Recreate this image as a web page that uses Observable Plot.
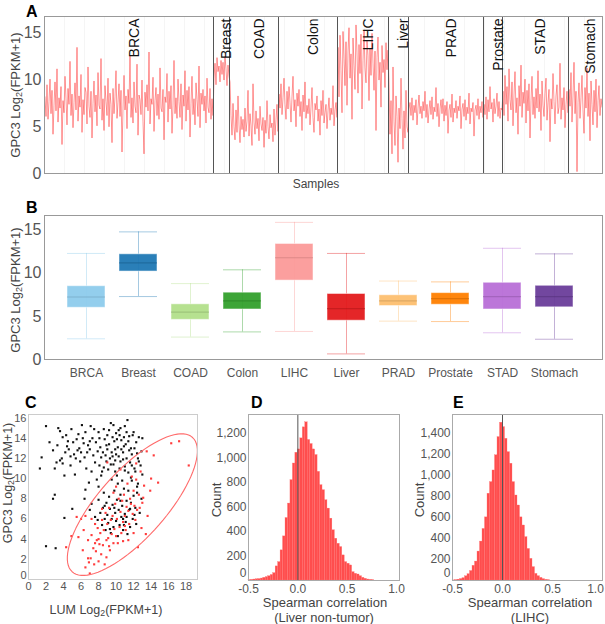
<!DOCTYPE html>
<html><head><meta charset="utf-8">
<script src="https://cdn.jsdelivr.net/npm/d3@7"></script>
<script src="https://cdn.jsdelivr.net/npm/@observablehq/plot@0.6"></script>
<style>
body{margin:0;background:#fff;font-family:"Liberation Sans",Arial,sans-serif;}
#root{position:relative;width:605px;height:624px;overflow:hidden;background:#fff;}
.lbl{position:absolute;white-space:nowrap;color:#444;line-height:1;}
.rot{transform:translate(-50%,-50%) rotate(-90deg);}
.ctr{transform:translate(-50%,-50%);}
.letter{position:absolute;font-weight:bold;font-size:16px;color:#000;line-height:1;transform:translateY(-50%);font-family:"Liberation Sans",Arial,sans-serif;}
sub{font-size:70%;vertical-align:-0.3em;line-height:0;}
</style></head><body><div id="root"></div>
<script>
// ---------- Panel A: per-sample GPC3 expression ----------
const groupNames = ["BRCA","Breast","COAD","Colon","LIHC","Liver","PRAD","Prostate","STAD","Stomach"];
const brcaValues = [8.2,6.1,9.5,5.8,7.7,10.1,6.4,8.9,4.2,7.3,9.8,6.7,11.2,5.5,8.1,7.0,9.3,3.1,7.8,6.5,10.4,8.0,5.2,9.1,7.4,12.0,6.2,8.5,4.9,7.6,9.7,6.8,13.5,5.6,8.3,7.1,10.6,4.4,7.9,6.3,9.2,8.7,5.3,11.4,7.2,6.0,8.8,3.8,7.5,9.9,6.6,8.4,5.1,10.8,7.3,6.9,12.3,5.7,8.0,4.6,9.4,7.7,6.2,10.2,5.0,8.6,7.4,3.3,9.1,6.4,8.2,11.0,5.9,7.6,9.6,6.1,8.9,2.3,7.0,10.5,6.8,8.3,4.8,9.0,7.5,12.6,6.0,8.1,5.4,9.8,7.2,6.5,11.7,4.1,8.4,7.9,6.3,10.0,5.6,2.1,8.7,7.1,9.5,6.7,13.0,5.3,8.0,7.4,10.3,4.5,7.8,9.2,6.2,8.5,5.8,11.3,7.0,6.6,9.0,3.6,8.2,7.6,10.7,5.5,8.8,6.9,9.4,4.3,7.3,12.1,6.4,8.1,5.9,10.1,7.7,6.0,9.6,4.7,8.4,7.2,11.0,5.6,8.9,6.8,9.3,3.9,7.5,10.4,6.3,8.0,5.2,9.7,7.9,6.1,11.5,4.9,8.6,7.4,9.0,6.7,8.3,5.4,10.2,7.1,6.5,9.1,5.8,8.0,6.2];
const breastValues = [10.2,11.8,9.5,12.4,10.9,11.5,9.8,12.1,10.6,11.9,10.0,12.5,11.2,9.4,11.6,10.4];
const coadValues = [9.8,6.2,4.1,7.5,5.0,3.6,6.8,4.4,8.3,5.2,3.3,6.1,4.7,5.8,3.9,7.0,4.5,5.6,8.9,4.0,6.4,5.1,3.0,9.6,5.5,4.2,6.7,4.8,5.9,3.5,7.2,5.3,4.6,6.0,2.8,5.7,4.3,7.8,5.0,3.7,6.3,4.9,5.4,3.4,6.9,4.1,5.8,7.4,4.5];
const colonValues = [8.5,7.0,9.6,6.3,8.1,10.2,7.4,5.8,8.8,6.9,9.3,7.6,5.5,8.2,10.4,6.7,7.9,5.0,8.6,7.2,9.0,6.1,7.7,4.6,8.4,6.6,9.8,5.9,7.3,6.4,8.0,5.2,7.1,9.2,6.0,4.4,7.5,6.8,8.3,5.6,6.9,4.1,7.8,6.2,8.9,5.4,6.5,7.4,4.8,6.7,8.1,5.7,7.0,6.3,9.4,5.1,6.8,7.6,6.0];
const lihcValues = [13.5,8.2,14.8,11.0,6.5,15.2,12.3,9.4,14.1,7.3,13.0,15.6,10.2,12.8,5.8,14.5,11.6,9.0,15.9,12.9,8.6,13.8,10.7,14.9,6.9,12.1,15.3,11.3,9.7,14.2,12.6,7.8,13.4,10.5,15.0,11.8,8.9,13.1,4.6,12.4,14.6,10.0,11.9,7.1,13.7,10.8,12.2,9.2,14.0,11.1,13.2];
const liverValues = [9.5,4.2,7.8,2.1,11.4,5.6,3.0,8.3,6.1,1.2,7.0,4.8,10.2,5.9,2.6,6.7,3.8,8.9,5.0,4.4];
const pradValues = [6.9,7.6,6.2,8.1,5.7,7.3,6.5,7.9,5.2,7.0,8.4,6.4,7.2,5.9,7.7,6.7,8.8,6.0,7.4,5.4,6.8,7.8,6.3,8.2,5.8,7.1,6.6,9.2,6.1,7.5,5.0,6.9,7.9,6.4,8.0,5.6,7.3,6.2,7.7,4.3,6.8,7.4,6.0,8.5,5.5,7.0,6.5,7.8,5.9,7.2,6.7,8.3,4.8,6.9,7.5,6.1,7.9,5.7,7.1,6.4,8.6,5.3,7.0,6.6,7.6,4.0,6.8,7.3,6.2,8.0,5.8,7.2,6.5,7.7,6.0];
const prostateValues = [7.4,6.3,8.2,5.8,7.9,6.6,9.3,6.9,7.6,5.5,8.0,6.4,7.2,8.6,6.1,7.7,5.9,7.0,6.8];
const stadValues = [8.8,6.2,10.5,7.4,9.3,5.6,11.2,7.9,6.8,9.8,5.1,8.4,10.9,6.5,8.1,4.2,9.4,7.2,11.6,6.0,8.7,7.5,10.1,5.4,8.9,6.7,9.6,3.8,7.8,10.4,6.3,8.2,5.9,9.1,7.0,11.0,6.6,8.5,4.6,9.9,7.3,6.1,8.6,10.2,5.7,7.6,9.0,3.4,8.0,6.9,10.7,7.7,5.3,8.3,9.5,6.4,7.1,11.8,5.8,8.1,6.8,9.2,4.9,7.4,8.8,6.5];
const stomachValues = [9.0,7.2,10.8,5.5,8.3,11.9,6.4,8.8,0.2,7.6,9.7,5.9,8.1,10.5,6.8,4.3,9.2,7.0,11.3,6.1,8.6,3.5,9.9,7.4,5.2,8.9,6.6,10.1,4.9,7.8,9.4,6.2,8.0,7.1];

// ---------- Panel B: box summaries ----------
const boxCategories = ["BRCA","Breast","COAD","Colon","LIHC","Liver","PRAD","Prostate","STAD","Stomach"];
const boxLow    = [2.4, 7.3, 2.6, 3.2, 3.25, 0.65, 4.45, 4.4, 3.1, 2.35];
const boxQ1     = [6.0, 10.2, 4.6, 5.8, 9.15, 4.5, 6.2, 6.35, 5.8, 6.05];
const boxMedian = [7.25, 11.2, 5.5, 6.8, 11.8, 5.9, 6.8, 7.05, 7.3, 7.3];
const boxQ3     = [8.5, 12.2, 6.4, 7.75, 13.4, 7.6, 7.45, 7.7, 8.9, 8.55];
const boxHigh   = [12.3, 14.8, 8.8, 10.4, 15.9, 12.3, 9.1, 9.0, 12.9, 12.25];
const boxColors = ["#8dcbec","#1f78b4","#b2df8a","#33a02c","#fb9a99","#e31a1c","#fdbf6f","#ff7f00","#b86fd7","#6a3d9a"];

// ---------- Panel C: LUM vs GPC3 ----------
const blackPoints = [[1.3,11.0],[1.5,12.1],[2.0,15.2],[2.4,13.6],[2.8,12.8],[3.0,11.0],[3.2,11.6],[3.4,15.0],[3.6,14.7],[3.3,13.3],[3.8,12.0],[3.6,11.8],[3.9,11.5],[4.1,10.3],[4.3,14.3],[4.5,13.7],[4.2,12.6],[4.6,12.9],[4.8,11.3],[4.9,14.9],[5.1,13.6],[5.2,12.4],[5.4,12.0],[5.5,13.9],[5.7,14.4],[5.8,13.0],[5.3,10.4],[5.9,11.7],[6.0,12.6],[6.1,15.3],[6.3,13.5],[6.4,12.1],[6.5,14.6],[6.6,11.0],[6.8,13.3],[6.9,9.6],[7.0,12.9],[7.1,15.2],[7.2,10.7],[7.3,14.0],[7.4,12.3],[7.6,11.6],[7.7,13.6],[7.8,9.9],[7.9,12.7],[8.0,14.6],[8.1,11.3],[8.2,13.1],[8.3,12.1],[8.4,10.7],[8.6,14.9],[8.7,13.9],[8.8,12.3],[8.9,11.7],[9.0,14.3],[9.1,10.9],[9.2,13.4],[9.3,12.0],[9.4,15.5],[9.5,12.6],[9.6,14.1],[9.7,11.4],[9.8,13.7],[9.9,12.9],[10.0,14.5],[10.1,10.3],[10.2,13.1],[10.3,12.2],[10.4,14.3],[10.5,11.7],[10.6,13.8],[10.7,9.8],[10.8,12.6],[10.9,14.1],[11.0,11.2],[11.1,13.4],[11.2,12.0],[11.3,15.8],[11.4,10.6],[11.5,14.2],[11.6,11.6],[11.7,13.0],[11.8,12.4],[12.0,14.6],[12.1,11.0],[12.3,13.6],[12.5,12.0],[12.8,11.3],[13.0,14.0],[12.4,9.2],
[8.5,12.6],[8.9,13.3],[9.2,14.8],[9.6,12.2],[9.9,11.8],[10.1,13.9],[10.3,14.8],[10.6,12.9],[10.9,13.2],[11.2,14.6],[11.5,12.8],[11.8,11.3],[12.1,13.0],[12.4,12.5],[9.0,12.9],[9.4,11.4],[10.0,12.4],[10.5,15.0],[10.8,11.9],[11.4,13.7],[8.1,14.0],[8.6,11.1],[7.5,14.9],[7.0,13.7],[6.7,12.6],[6.2,14.0],[5.6,12.8],[4.8,12.2],[4.4,13.2],[3.9,14.1],[12.9,12.7],[12.6,14.1],[11.9,14.3],[11.0,15.2],[9.7,15.3],[10.4,11.0],[11.7,10.1],[12.2,10.7],[8.3,10.3],[9.9,10.7],
[2.0,3.3],[3.1,3.1],[3.0,8.4],[2.8,8.0],[4.1,6.1],[5.0,7.0],[6.4,8.0],[6.5,8.9],[7.0,6.9],
[7.2,7.5],[7.6,6.2],[7.9,5.9],[8.0,7.9],[8.2,6.6],[8.4,5.4],[8.5,7.1],[8.6,8.6],[8.7,6.0],[8.8,4.9],[8.9,7.6],[9.0,6.4],[9.1,5.6],[9.2,8.2],[9.3,7.0],[9.4,4.6],[9.5,6.0],[9.6,7.4],[9.7,5.2],[9.8,8.8],[9.9,6.6],[10.0,5.8],[10.1,7.9],[10.2,4.3],[10.3,6.9],[10.4,5.4],[10.5,8.4],[10.6,6.2],[10.7,7.3],[10.8,4.9],[10.9,9.0],[11.0,6.5],[11.1,5.7],[11.2,7.8],[11.3,4.5],[11.4,8.8],[11.5,6.9],[11.6,5.2],[11.7,7.6],[11.8,9.8],[11.9,6.0],[12.0,8.3],[12.2,7.1],[12.3,5.5],[12.5,9.5],[12.7,6.6],[12.9,8.0],[13.0,10.4],[11.0,10.8],[10.2,9.5],[9.5,9.9],[12.6,11.7],[8.0,9.2],
[10.5,7.8],[11.2,6.2],[9.3,5.0],[10.8,6.0],[11.6,7.0],[12.4,8.6],[9.8,7.1],[10.9,5.4],[8.7,7.3],[12.1,6.4]];
const redPoints = [[4.3,3.2],[4.9,4.3],[5.5,6.2],[5.7,4.2],[6.0,6.0],[6.2,2.9],[6.3,4.9],[6.5,1.2],[6.8,3.9],[6.9,1.7],[7.0,0.6],[7.1,2.1],[7.2,4.4],[7.4,3.1],[7.5,1.5],[7.6,5.5],[7.7,2.8],[7.8,3.9],[7.9,5.1],[8.0,1.8],[8.1,3.5],[8.2,4.6],[8.3,2.5],[8.4,5.9],[8.5,3.4],[8.6,4.9],[8.7,1.5],[8.8,6.6],[8.9,3.9],[9.0,5.5],[9.1,4.1],[9.2,7.1],[9.3,2.9],[9.4,5.9],[9.5,4.5],[9.6,6.3],[9.7,3.6],[9.8,5.0],[9.9,7.5],[10.0,4.3],[10.1,6.0],[10.2,3.6],[10.3,8.0],[10.4,5.2],[10.5,6.7],[10.6,4.6],[10.7,7.8],[10.8,5.7],[10.9,8.4],[11.0,6.3],[11.1,4.9],[11.2,7.2],[11.3,9.5],[11.4,6.8],[11.5,5.5],[11.6,8.0],[11.7,7.5],[11.8,10.2],[11.9,6.5],[12.0,8.8],[12.1,7.3],[12.2,5.9],[12.3,9.9],[12.4,6.9],[12.5,3.2],[12.6,8.4],[12.7,7.1],[12.8,10.7],[12.9,5.1],[13.0,7.6],[13.2,9.3],[13.4,4.5],[13.5,12.7],[13.6,6.3],[13.9,8.8],[14.0,10.0],[14.3,12.3],[14.8,9.6],[16.3,13.5],[17.2,13.7],[18.3,11.3],[9.0,11.6],[10.5,10.9],[7.2,6.0],[6.5,6.3],[8.0,4.0],[9.2,3.3],[10.0,9.2],[11.4,3.9],[6.8,2.1],[12.0,4.6],[11.0,5.3],[8.4,7.0],[9.7,8.6],[10.8,3.8],[12.3,11.5],[13.1,8.1],[7.6,3.6],[8.9,2.2]];
const ellipseCenter = [11.86, 7.42];
const ellipseAxisMajor = [6.88, 6.65];
const ellipseAxisMinor = [2.80, -2.24];

// ---------- Panels D, E: histograms of Spearman correlation ----------
const histStart = -0.5, histBinWidth = 0.025;
const countsLiverNonTumor = [3,5,8,10,12,16,22,28,35,45,60,115,150,246,360,510,628,819,955,1043,1070,1160,1250,1291,1147,1114,1070,1024,887,778,737,655,587,505,410,341,300,273,205,150,137,123,68,55,49,35,22,14,8,5,3];
const countsLIHC = [1,3,8,14,22,40,60,90,140,180,275,370,490,600,825,935,1046,1190,1363,1500,1458,1347,1220,1110,935,808,713,600,523,412,300,206,127,63,41,25,13,6,3];
const corrTicks = [-0.5, 0, 0.5, 1];

// ================= drawing =================
const FONT = '"Liberation Sans", Arial, sans-serif';
const root = document.getElementById("root");
function place(el, left, top){ el.style.position="absolute"; el.style.left=left+"px"; el.style.top=top+"px"; el.style.overflow="visible"; root.appendChild(el); }
function label(html, x, y, size, cls){ const d=document.createElement("div"); d.className="lbl "+cls; d.style.left=x+"px"; d.style.top=y+"px"; d.style.fontSize=size+"px"; d.innerHTML=html; root.appendChild(d); }
function letter(t, x, y){ const d=document.createElement("div"); d.className="letter"; d.style.left=x+"px"; d.style.top=y+"px"; d.textContent=t; root.appendChild(d); }

// Panel A
const groupSeries = [brcaValues,breastValues,coadValues,colonValues,lihcValues,liverValues,pradValues,prostateValues,stadValues,stomachValues];
const series=[], bounds=[], centers=[];
let idx=0;
groupSeries.forEach((arr,g)=>{ const s=idx; arr.forEach(v=>{series.push({x:idx+0.5, v}); idx++;}); bounds.push(idx); centers.push({x:(s+idx)/2, name:groupNames[g]}); });
const total = idx;
const plotA = Plot.plot({
  width:605, height:195, marginLeft:44, marginRight:3, marginTop:16, marginBottom:22,
  x:{domain:[0,total], axis:null},
  y:{domain:[0,16.8], axis:null},
  style:{fontFamily:FONT, fontSize:"16px", color:"#555", background:"transparent"},
  marks:[
    Plot.gridX({ticks:30, stroke:"#000", strokeOpacity:0.04}),
    Plot.line(series,{x:"x", y:"v", stroke:"#ff2a2a", strokeOpacity:0.55, strokeWidth:0.9}),
    Plot.ruleX(bounds.slice(0,-1),{stroke:"#555", strokeWidth:1}),
    Plot.text(centers,{x:"x", frameAnchor:"top", dy:2, text:"name", rotate:-90, textAnchor:"end", fontSize:14, fill:"#111"}),
    Plot.axisY({ticks:[0,5,10,15], tickSize:0, tickPadding:3, label:null}),
    Plot.frame({stroke:"#999"})
  ]
});
place(plotA,0,0);

// Panel B
const boxData = boxCategories.map((c,i)=>({cat:c, lo:boxLow[i], q1:boxQ1[i], med:boxMedian[i], q3:boxQ3[i], hi:boxHigh[i], color:boxColors[i], dark:d3.color(boxColors[i]).darker(0.7).formatHex()}));
const plotB = Plot.plot({
  width:605, height:190, marginLeft:44, marginRight:3, marginTop:20, marginBottom:26,
  x:{type:"band", domain:boxCategories, range:[52,587], padding:0.27, axis:null},
  y:{domain:[0,16.7], axis:null},
  style:{fontFamily:FONT, fontSize:"16px", color:"#555", background:"transparent"},
  marks:[
    Plot.ruleX(boxData,{x:"cat", y1:"lo", y2:"hi", stroke:"color", strokeOpacity:0.4}),
    Plot.tickY(boxData,{x:"cat", y:"lo", stroke:"color", strokeOpacity:0.4}),
    Plot.tickY(boxData,{x:"cat", y:"hi", stroke:"color", strokeOpacity:0.4}),
    Plot.barY(boxData,{x:"cat", y1:"q1", y2:"q3", fill:"color", fillOpacity:0.95, stroke:"#fff", strokeOpacity:0.5}),
    Plot.tickY(boxData,{x:"cat", y:"med", stroke:"dark", strokeOpacity:0.55, strokeWidth:1.2}),
    Plot.axisY({ticks:[0,5,10,15], tickSize:0, tickPadding:3, label:null}),
    Plot.axisX({tickSize:0, tickPadding:9, fontSize:12, label:null}),
    Plot.frame({stroke:"#999"})
  ]
});
place(plotB,0,195);

// Panel C
const ellipse = d3.range(0,361,4).map(deg=>{ const t=deg*Math.PI/180; return {x:ellipseCenter[0]+Math.cos(t)*ellipseAxisMajor[0]+Math.sin(t)*ellipseAxisMinor[0], y:ellipseCenter[1]+Math.cos(t)*ellipseAxisMajor[1]+Math.sin(t)*ellipseAxisMinor[1]}; });
const plotC = Plot.plot({
  width:200, height:239, marginLeft:28, marginRight:3, marginTop:29, marginBottom:45,
  x:{domain:[0,19.3], axis:null},
  y:{domain:[0,16.35], axis:null},
  style:{fontFamily:FONT, fontSize:"11px", color:"#555", background:"transparent"},
  marks:[
    Plot.dot(blackPoints,{x:d=>d[0], y:d=>d[1], r:1.2, symbol:"square", fill:"#111", stroke:null}),
    Plot.dot(redPoints,{x:d=>d[0], y:d=>d[1], r:1.2, symbol:"square", fill:"#ff3b3b", stroke:null}),
    Plot.line(ellipse,{x:"x", y:"y", stroke:"#ff6b6b", strokeWidth:1.1}),
    Plot.axisX({ticks:d3.range(0,19,2), tickSize:0, tickPadding:3, label:null}),
    Plot.axisY({ticks:d3.range(2,17,2), tickSize:0, tickPadding:2, label:null}),
    Plot.axisY({ticks:[0], tickSize:0, tickPadding:2, dy:-4, label:null}),
    Plot.frame({stroke:"#ccc"})
  ]
});
place(plotC,0,385);

// Panels D, E
function histPlot(counts, yMax, yTicks, xMax, w, ml, mr, lastDx){
  const bins = counts.map((n,i)=>({x0:histStart+i*histBinWidth, x1:histStart+(i+1)*histBinWidth, n}));
  return Plot.plot({
    width:w, height:239, marginLeft:ml, marginRight:mr, marginTop:29, marginBottom:44,
    x:{domain:[-0.5,xMax], axis:null},
    y:{domain:[0,yMax], axis:null},
    style:{fontFamily:FONT, fontSize:"12px", color:"#555", background:"transparent"},
    marks:[
      Plot.rectY(bins,{x1:"x0", x2:"x1", y:"n", fill:"#ff4d4d", stroke:"#ff7070", strokeWidth:0.3}),
      Plot.ruleX([0],{stroke:"#555", strokeWidth:1}),
      Plot.axisX({ticks:corrTicks.slice(0,3), tickFormat:d=>d.toFixed(1), tickSize:0, tickPadding:4, label:null}),
      Plot.axisX({ticks:corrTicks.slice(3), tickFormat:d=>d.toFixed(1), tickSize:0, tickPadding:4, dx:lastDx, label:null}),
      Plot.axisY({ticks:yTicks.slice(1), tickFormat:d3.format(","), tickSize:0, tickPadding:2, label:null}),
      Plot.axisY({ticks:yTicks.slice(0,1), tickSize:0, tickPadding:2, dy:-7, label:null}),
      Plot.frame({stroke:"#aaa"})
    ]
  });
}
place(histPlot(countsLiverNonTumor, 1355, d3.range(0,1201,200), 1.03, 205, 48, 6, 0), 200, 385);
place(histPlot(countsLIHC, 1578, d3.range(0,1401,200), 1.0, 200, 47, 3, -7), 405, 385);

// Text labels
const gpc = 'GPC3 Log<sub>2</sub>(FPKM+1)';
label(gpc, 15, 95, 13, "rot");
label("Samples", 316, 184, 12, "ctr");
label(gpc, 15, 290, 13, "rot");
label(gpc, 8, 483, 12.5, "rot");
label('LUM Log<sub>2</sub>(FPKM+1)', 106, 610, 12.5, "ctr");
label("Count", 216, 500, 13, "rot");
label("Spearman correlation", 325, 602, 13, "ctr");
label("(Liver non-tumor)", 324, 617, 13, "ctr");
label("Count", 419, 500, 13, "rot");
label("Spearman correlation", 530, 602, 13, "ctr");
label("(LIHC)", 530, 617, 13, "ctr");
letter("A", 26, 12);
letter("B", 26, 208);
letter("C", 25, 403);
letter("D", 251, 403);
letter("E", 453, 403);
</script></body></html>
